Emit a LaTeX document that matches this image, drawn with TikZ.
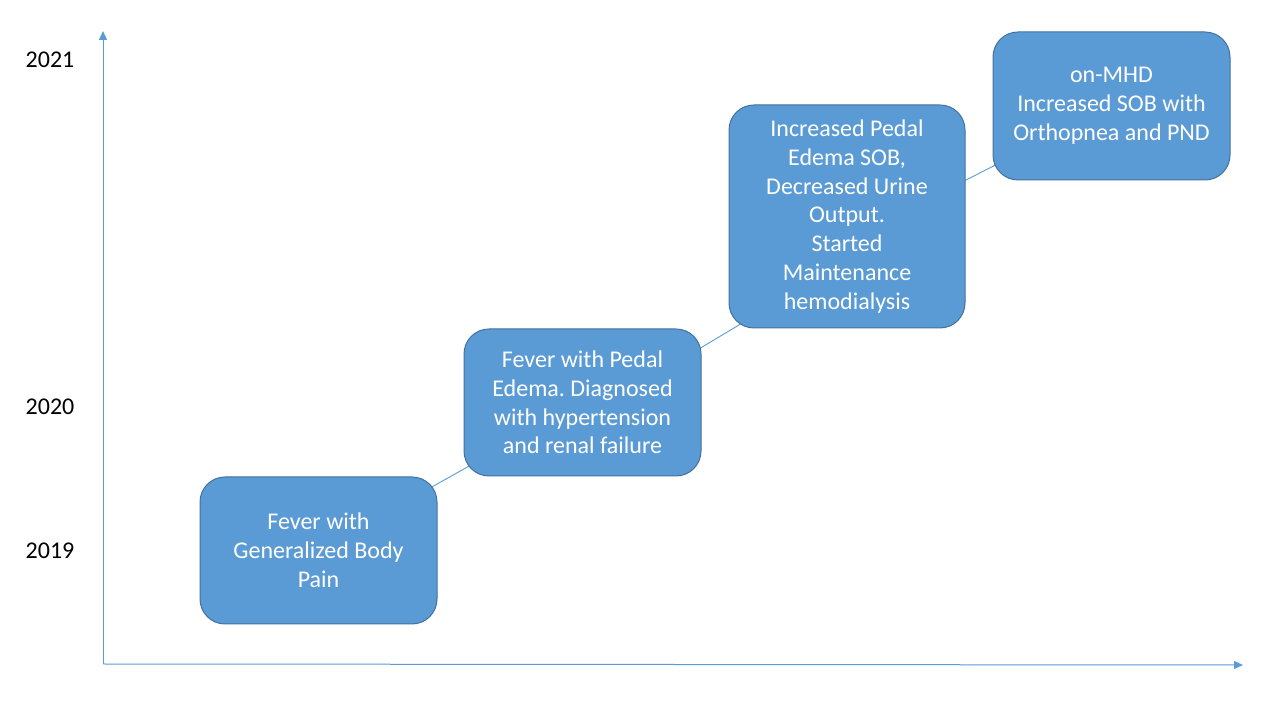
\documentclass[tikz,border=0pt]{standalone}
\usepackage{fontspec}
\setmainfont{Carlito}
\frenchspacing
\usetikzlibrary{arrows.meta,calc,backgrounds}
\definecolor{boxfill}{HTML}{5B9BD5}
\definecolor{boxline}{HTML}{41719C}
\definecolor{axis}{HTML}{5B9BD5}
\tikzset{
  event/.style={draw=boxline, line width=1pt, fill=boxfill, rounded corners=25pt,
    text=white, align=center, inner sep=0pt,
    font=\fontsize{24}{28.8}\selectfont},
  yearlabel/.style={font=\fontsize{24}{28.8}\selectfont, text=black},
  axisline/.style={draw=axis, line width=1pt, -{Triangle[length=9pt,width=8pt]}},
  link/.style={draw=axis, line width=0.9pt}
}
\begin{document}
\begin{tikzpicture}[x=1pt,y=1pt]
\useasboundingbox (0,0) rectangle (1280,720);
% axes
\coordinate (o) at (103,56);
\coordinate (ytop) at (103,689);
\coordinate (xend) at (1243,55);
\draw[axisline] (o) -- (ytop);
\draw[axisline] (o) -- (xend);
% year labels
\node[yearlabel] (y2021) at (50,660) {2021};
\node[yearlabel] (y2020) at (50,313) {2020};
\node[yearlabel] (y2019) at (50,169) {2019};
% events
\node[event, minimum width=237pt, minimum height=147pt] (b1) at (318.5,169.5)
  {Fever with\\Generalized Body\\Pain};
\node[event, minimum width=237pt, minimum height=147pt] (b2) at (582.5,317.5)
  {Fever with Pedal\\Edema. Diagnosed\\with hypertension\\and renal failure};
\node[event, minimum width=236pt, minimum height=223pt] (b3) at (847,503.5)
  {Increased Pedal\\Edema SOB,\\Decreased Urine\\Output.\\Started\\Maintenance\\hemodialysis};
\node[event, minimum width=237pt, minimum height=148pt] (b4) at (1111.5,614)
  {on-MHD\\Increased SOB with\\Orthopnea and PND};
% connectors behind the boxes
\begin{scope}[on background layer]
\draw[link] (b1.center) -- (b2.center);
\draw[link] ($(b2.center)+(0,-16)$) -- ($(b3.center)+(0,-44)$);
\draw[link] ($(b3.center)+(0,-24)$) -- (b4.center);
\end{scope}
\end{tikzpicture}
\end{document}
